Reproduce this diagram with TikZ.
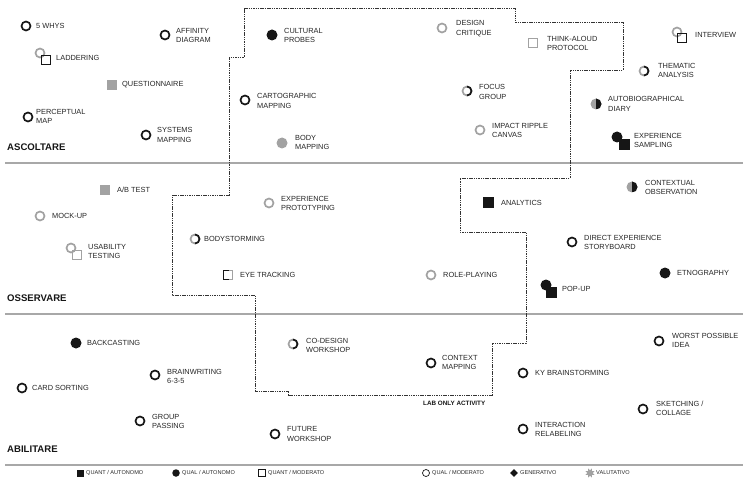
\documentclass[tikz,border=0pt]{standalone}
\usepackage{fontspec}
\setmainfont{Liberation Sans}
\usetikzlibrary{shapes.geometric}

\definecolor{ink}{HTML}{161616}
\definecolor{mid}{HTML}{A2A2A2}
\definecolor{rulecol}{HTML}{A8A8A8}
\definecolor{txt}{HTML}{262626}
\definecolor{labline}{HTML}{333333}

\tikzset{
  lbl/.style={anchor=west, align=left, font=\fontsize{7.4}{9.4}\selectfont, text=txt, inner sep=0pt},
  sect/.style={anchor=west, font=\fontsize{9.6}{11}\selectfont\bfseries, text=ink, inner sep=0pt},
  legend/.style={anchor=west, font=\fontsize{5.6}{7}\selectfont, text=txt, inner sep=0pt},
  sectrule/.style={draw=rulecol, line width=1.2pt},
  labzone/.style={draw=labline, line width=0.9pt, dash pattern=on 1.5pt off 0.8pt},
  dot/.style={circle, minimum size=9pt, inner sep=0pt, line width=1.7pt},
  ringK/.style={dot, draw=ink},
  ringG/.style={dot, draw=mid},
  fillK/.style={circle, minimum size=11pt, inner sep=0pt, fill=ink},
  fillG/.style={circle, minimum size=11pt, inner sep=0pt, fill=mid},
  halffill/.style={circle, minimum size=11pt, inner sep=0pt, fill=mid,
    path picture={\fill[ink] (path picture bounding box.north) rectangle (path picture bounding box.south east);}},
  box/.style={rectangle, minimum size=9pt, inner sep=0pt, line width=1.5pt},
  boxK/.style={box, draw=ink},
  boxG/.style={box, draw=mid},
  boxfillK/.style={rectangle, minimum size=11pt, inner sep=0pt, fill=ink},
  boxfillG/.style={rectangle, minimum size=10.5pt, inner sep=0pt, fill=mid},
  halfarc/.style={draw=ink, line width=1.7pt},
}

\begin{document}
\begin{tikzpicture}[x=1pt,y=-1pt]
\useasboundingbox (0,0) rectangle (743,478);

% section rules
\coordinate (r1a) at (5,163);   \coordinate (r1b) at (743,163);
\coordinate (r2a) at (5,314);   \coordinate (r2b) at (743,314);
\coordinate (r3a) at (5,465);   \coordinate (r3b) at (743,465);
\draw[sectrule] (r1a) -- (r1b);
\draw[sectrule] (r2a) -- (r2b);
\draw[sectrule] (r3a) -- (r3b);

% lab-only area
\draw[labzone] (244,8) -- (515,8) -- (515,22) -- (623,22) -- (623,70) -- (570,70)
  -- (570,178) -- (460,178) -- (460,232) -- (526,232) -- (526,343) -- (492,343)
  -- (492,395) -- (288,395) -- (288,391) -- (255,391) -- (255,295) -- (172,295)
  -- (172,195) -- (229,195) -- (229,57) -- (244,57) -- cycle;
\node[anchor=west, font=\fontsize{6.3}{7}\selectfont\bfseries, text=ink, inner sep=0pt] (lab) at (423,403) {LAB ONLY ACTIVITY};

% section titles
\node[sect] (ascoltare) at (7,147) {ASCOLTARE};
\node[sect] (osservare) at (7,298) {OSSERVARE};
\node[sect] (abilitare) at (7,449) {ABILITARE};

% ---------- ASCOLTARE ----------
\node[ringK] (m5why) at (26,26) {};
\node[lbl] (t5why) at (36,26) {5 WHYS};

\node[ringG] (mladc) at (40,53) {};
\node[boxK] (mlads) at (46,60) {};
\node[lbl] (tlad) at (56,58) {LADDERING};

\node[ringK] (maff) at (165,35) {};
\node[lbl] (taff) at (176,35.5) {AFFINITY\\DIAGRAM};

\node[boxfillG] (mque) at (112,85) {};
\node[lbl] (tque) at (122,85) {QUESTIONNAIRE};

\node[ringK] (mper) at (28,117) {};
\node[lbl] (tper) at (36,116.5) {PERCEPTUAL\\MAP};

\node[ringK] (msys) at (146,135) {};
\node[lbl] (tsys) at (157,135) {SYSTEMS\\MAPPING};

\node[fillK] (mcul) at (272,35) {};
\node[lbl] (tcul) at (284,35.5) {CULTURAL\\PROBES};

\node[ringK] (mcar) at (245,100) {};
\node[lbl] (tcar) at (257,101) {CARTOGRAPHIC\\MAPPING};

\node[fillG] (mbod) at (282,143) {};
\node[lbl] (tbod) at (295,142.5) {BODY\\MAPPING};

\node[ringG] (mdes) at (442,28) {};
\node[lbl] (tdes) at (456,28.5) {DESIGN\\CRITIQUE};

\node[boxG] (mthi) at (533,43) {};
\node[lbl] (tthi) at (547,43.5) {THINK-ALOUD\\PROTOCOL};

\node[ringG] (mfoc) at (467,91) {};
\draw[halfarc] (mfoc.center) ++(90:4.5) arc[start angle=90, end angle=-90, radius=4.5];
\node[lbl] (tfoc) at (479,92) {FOCUS\\GROUP};

\node[ringG] (mimp) at (480,130) {};
\node[lbl] (timp) at (492,130.5) {IMPACT RIPPLE\\CANVAS};

\node[ringG] (mintc) at (677,32) {};
\node[boxK] (mints) at (682,38) {};
\node[lbl] (tint) at (695,35) {INTERVIEW};

\node[ringG] (mthe) at (644,71) {};
\draw[halfarc] (mthe.center) ++(90:4.5) arc[start angle=90, end angle=-90, radius=4.5];
\node[lbl] (tthe) at (658,70.5) {THEMATIC\\ANALYSIS};

\node[halffill] (maut) at (596,104) {};
\node[lbl] (taut) at (608,104) {AUTOBIOGRAPHICAL\\DIARY};

\node[fillK] (mexsc) at (617,137) {};
\node[boxfillK] (mexss) at (624,145) {};
\node[lbl] (texs) at (634,140.5) {EXPERIENCE\\SAMPLING};

% ---------- OSSERVARE ----------
\node[boxfillG] (mab) at (105,190) {};
\node[lbl] (tab) at (117,190) {A/B TEST};

\node[ringG] (mmoc) at (40,216) {};
\node[lbl] (tmoc) at (52,216) {MOCK-UP};

\node[ringG] (musac) at (71,248) {};
\node[boxG] (musas) at (77,255) {};
\node[lbl] (tusa) at (88,251.5) {USABILITY\\TESTING};

\node[ringG] (mexp) at (269,203) {};
\node[lbl] (texp) at (281,203.5) {EXPERIENCE\\PROTOTYPING};

\node[ringG] (mbst) at (195,239) {};
\draw[halfarc] (mbst.center) ++(90:4.5) arc[start angle=90, end angle=-90, radius=4.5];
\node[lbl] (tbst) at (204,239) {BODYSTORMING};

\node[boxG] (meye) at (228,275) {};
\draw[draw=ink, line width=1.5pt] (meye.center) ++(0.5,-4.5) -- ++(-5,0) -- ++(0,9) -- ++(5,0);
\node[lbl] (teye) at (240,275) {EYE TRACKING};

\node[ringG] (mrol) at (431,275) {};
\node[lbl] (trol) at (443,275) {ROLE-PLAYING};

\node[boxfillK] (mana) at (488,203) {};
\node[lbl] (tana) at (501,203) {ANALYTICS};

\node[halffill] (mcon) at (632,187) {};
\node[lbl] (tcon) at (645,187.5) {CONTEXTUAL\\OBSERVATION};

\node[ringK] (mdir) at (572,242) {};
\node[lbl] (tdir) at (584,242.5) {DIRECT EXPERIENCE\\STORYBOARD};

\node[fillK] (metn) at (665,273) {};
\node[lbl] (tetn) at (677,273) {ETNOGRAPHY};

\node[fillK] (mpopc) at (546,285) {};
\node[boxfillK] (mpops) at (551,292) {};
\node[lbl] (tpop) at (562,289) {POP-UP};

% ---------- ABILITARE ----------
\node[fillK] (mbac) at (76,343) {};
\node[lbl] (tbac) at (87,343) {BACKCASTING};

\node[ringK] (mcrd) at (22,388) {};
\node[lbl] (tcrd) at (32,388) {CARD SORTING};

\node[ringK] (mbrw) at (155,375) {};
\node[lbl] (tbrw) at (167,376.5) {BRAINWRITING\\6-3-5};

\node[ringK] (mgrp) at (140,421) {};
\node[lbl] (tgrp) at (152,421.5) {GROUP\\PASSING};

\node[ringG] (mcod) at (293,344) {};
\draw[halfarc] (mcod.center) ++(90:4.5) arc[start angle=90, end angle=-90, radius=4.5];
\node[lbl] (tcod) at (306,345.5) {CO-DESIGN\\WORKSHOP};

\node[ringK] (mctx) at (431,363) {};
\node[lbl] (tctx) at (442,362.5) {CONTEXT\\MAPPING};

\node[ringK] (mfut) at (275,434) {};
\node[lbl] (tfut) at (287,434) {FUTURE\\WORKSHOP};

\node[ringK] (mwor) at (659,341) {};
\node[lbl] (twor) at (672,340.5) {WORST POSSIBLE\\IDEA};

\node[ringK] (mky) at (523,373) {};
\node[lbl] (tky) at (535,373) {KY BRAINSTORMING};

\node[ringK] (mske) at (643,409) {};
\node[lbl] (tske) at (656,408.5) {SKETCHING /\\COLLAGE};

\node[ringK] (mitr) at (523,429) {};
\node[lbl] (titr) at (535,429.5) {INTERACTION\\RELABELING};

% ---------- legend ----------
\node[rectangle, minimum size=7pt, inner sep=0pt, fill=ink] (lg1) at (80,473) {};
\node[legend] (lt1) at (86,473) {QUANT / AUTONOMO};
\node[circle, minimum size=7.5pt, inner sep=0pt, fill=ink] (lg2) at (176,473) {};
\node[legend] (lt2) at (182,473) {QUAL / AUTONOMO};
\node[rectangle, minimum size=7pt, inner sep=0pt, draw=ink, line width=0.6pt] (lg3) at (262,473) {};
\node[legend] (lt3) at (268,473) {QUANT / MODERATO};
\node[circle, minimum size=7pt, inner sep=0pt, draw=ink, line width=0.7pt] (lg4) at (426,473) {};
\node[legend] (lt4) at (432,473) {QUAL / MODERATO};
\node[diamond, minimum size=8pt, inner sep=0pt, fill=ink] (lg5) at (514,473) {};
\node[legend] (lt5) at (520,473) {GENERATIVO};
\node[star, star points=8, star point ratio=0.55, minimum size=5.5pt, inner sep=0pt, fill=mid] (lg6) at (590,473) {};
\node[legend] (lt6) at (596,473) {VALUTATIVO};

\end{tikzpicture}
\end{document}
